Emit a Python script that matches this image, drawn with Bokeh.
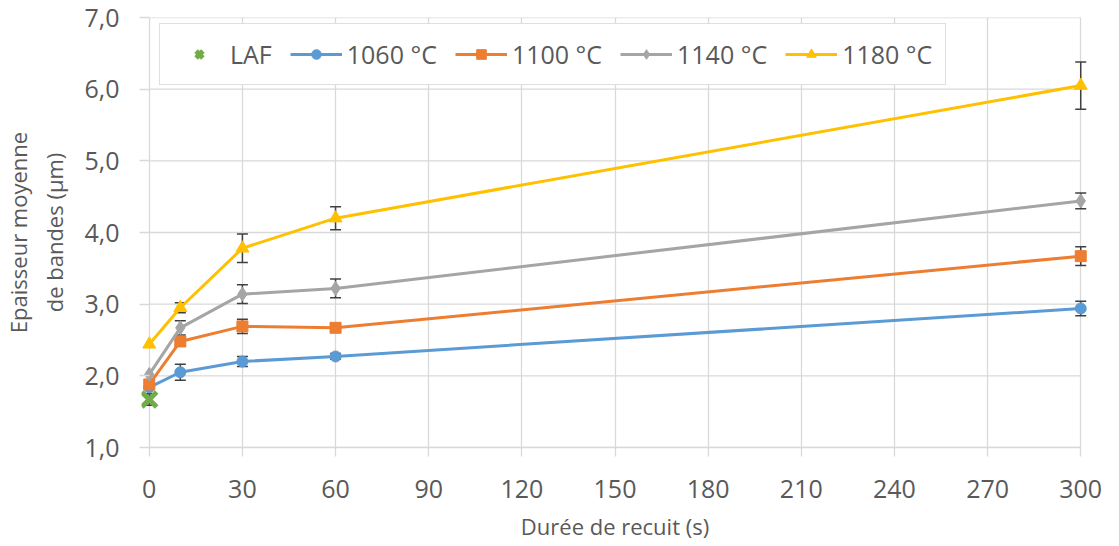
from bokeh.plotting import figure
from bokeh.embed import file_html
from bokeh.resources import INLINE
from bokeh.models import (FixedTicker, CustomJSTickFormatter, Whisker, TeeHead,
                          ColumnDataSource, Legend, LegendItem, Range1d)

# ---- data ----
x_vals = [0, 10, 30, 60, 300]
laf_x = [0]
laf_y = [1.67]
laf_err = [0.08]

s1060 = [1.84, 2.05, 2.20, 2.27, 2.94]
e1060 = [0.0, 0.11, 0.07, 0.04, 0.10]
s1100 = [1.88, 2.48, 2.69, 2.67, 3.67]
e1100 = [0.0, 0.05, 0.10, 0.05, 0.13]
s1140 = [2.02, 2.67, 3.14, 3.22, 4.44]
e1140 = [0.0, 0.10, 0.13, 0.13, 0.11]
s1180 = [2.44, 2.95, 3.78, 4.20, 6.05]
e1180 = [0.0, 0.07, 0.20, 0.16, 0.33]

x_ticks = [0, 30, 60, 90, 120, 150, 180, 210, 240, 270, 300]
y_ticks = [1, 2, 3, 4, 5, 6, 7]
labels = ["LAF", "1060 °C", "1100 °C", "1140 °C", "1180 °C"]
colors = ["#70AD47", "#5B9BD5", "#ED7D31", "#A5A5A5", "#FFC000"]

FONT = "Open Sans"
TXT = "#595959"
GRID = "#d9d9d9"

p = figure(width=1103, height=543, output_backend="svg", toolbar_location=None,
           x_range=Range1d(-2.5, 302.5), y_range=Range1d(1, 7),
           min_border_left=132, min_border_right=15, min_border_top=17,
           min_border_bottom=91)
p.outline_line_color = None
p.background_fill_color = "white"

# grids
p.xgrid.ticker = FixedTicker(ticks=x_ticks)
p.xgrid.grid_line_color = GRID
p.xgrid.grid_line_width = 1.3
p.ygrid.grid_line_color = None
p.segment(x0=[x_ticks[0]] * len(y_ticks), x1=[x_ticks[-1]] * len(y_ticks),
          y0=y_ticks, y1=y_ticks, line_color=GRID, line_width=1.3, level="underlay")

# axes
xa = p.xaxis[0]
xa.ticker = FixedTicker(ticks=x_ticks)
xa.bounds = (0, 300)
xa.axis_line_color = GRID
xa.axis_line_width = 1.3
xa.major_tick_line_color = GRID
xa.major_tick_line_width = 1.3
xa.major_tick_in = 0
xa.major_tick_out = 9
xa.minor_tick_line_color = None
xa.major_label_text_font = FONT
xa.major_label_text_font_size = "25px"
xa.major_label_text_color = TXT
xa.major_label_standoff = 23
xa.axis_label = "Durée de recuit (s)"
xa.axis_label_text_font = FONT
xa.axis_label_text_font_size = "22px"
xa.axis_label_text_font_style = "normal"
xa.axis_label_text_color = TXT
xa.axis_label_standoff = 10

ya = p.yaxis[0]
ya.ticker = FixedTicker(ticks=y_ticks)
ya.formatter = CustomJSTickFormatter(code="return tick.toFixed(1).replace('.', ',');")
ya.axis_line_color = None
ya.major_tick_line_color = GRID
ya.major_tick_line_width = 1.3
ya.major_tick_in = 8
ya.major_tick_out = 2
ya.minor_tick_line_color = None
ya.major_label_text_font = FONT
ya.major_label_text_font_size = "25px"
ya.major_label_text_color = TXT
ya.major_label_standoff = 20
ya.axis_label = "Epaisseur moyenne\nde bandes (µm)"
ya.axis_label_text_font = FONT
ya.axis_label_text_font_size = "22px"
ya.axis_label_text_font_style = "normal"
ya.axis_label_text_color = TXT
ya.axis_label_standoff = 12

# error bars (only where an error is given)
def add_err(xs, ys, es):
    pts = [(x, y, e) for x, y, e in zip(xs, ys, es) if e > 0]
    src = ColumnDataSource(dict(x=[t[0] for t in pts],
                                lo=[t[1] - t[2] for t in pts],
                                hi=[t[1] + t[2] for t in pts]))
    w = Whisker(base="x", lower="lo", upper="hi", source=src,
                line_color="#404040", line_width=1.5,
                upper_head=TeeHead(size=11, line_color="#404040", line_width=1.5),
                lower_head=TeeHead(size=11, line_color="#404040", line_width=1.5))
    p.add_layout(w)

add_err(laf_x, laf_y, laf_err)
for ys, es in [(s1060, e1060), (s1100, e1100), (s1140, e1140), (s1180, e1180)]:
    add_err(x_vals, ys, es)

items = []
series = [s1060, s1100, s1140, s1180]
markers = ["circle", "square", "diamond", "triangle"]
sizes = [11, 11, 14, 13]
rend = []
for i, (ys, mk, sz) in enumerate(zip(series, markers, sizes)):
    c = colors[i + 1]
    rl = p.line(x_vals, ys, line_color=c, line_width=3)
    rs = p.scatter(x_vals, ys, marker=mk, size=sz, fill_color=c, line_color=c)
    rend.append([rl, rs])

r_laf = p.scatter(laf_x, laf_y, marker="x", size=21, line_color=colors[0], line_width=5)
items.append(LegendItem(label=labels[0], renderers=[r_laf]))
for i in range(4):
    items.append(LegendItem(label=labels[i + 1], renderers=rend[i]))

legend = Legend(items=items, orientation="horizontal", location=(18, 362),
                glyph_width=52, glyph_height=24, label_standoff=5, spacing=18,
                padding=13, margin=0, border_line_color="#bfbfbf",
                border_line_width=1.5, background_fill_color="white",
                background_fill_alpha=1.0,
                label_text_font=FONT, label_text_font_size="25px",
                label_text_color=TXT)
p.add_layout(legend, "center")

open("out.html", "w").write(file_html(p, INLINE))
